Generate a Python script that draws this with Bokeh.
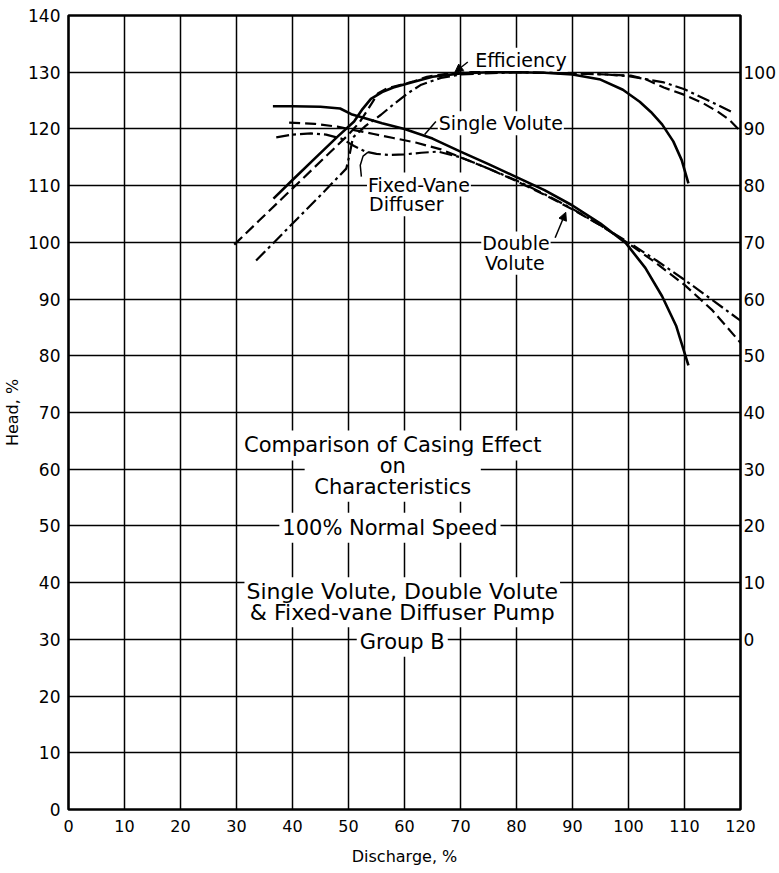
from bokeh.plotting import figure
from bokeh.models import Range1d, LinearAxis, FixedTicker, ColumnDataSource, Arrow, NormalHead
from bokeh.core.properties import value
from bokeh.embed import file_html
from bokeh.resources import INLINE

FONT = "DejaVu Sans"

# ---- ticks ----
x_ticks = list(range(0, 121, 10))
head_ticks = list(range(0, 141, 10))
eff_ticks = list(range(0, 101, 10))

# ---- head curves (Head, %) ----
single_head_x = [36.5, 40, 45, 48.5, 50.5, 52.5, 56, 60, 65, 70, 75, 80, 85, 90, 95, 99.5, 103, 106, 108.5, 110.7]
single_head_y = [124.0, 124.0, 123.9, 123.6, 122.6, 122.0, 121.0, 120.0, 118.3, 116.0, 113.8, 111.5, 109.2, 106.5, 103.3, 99.9, 95.5, 90.5, 85.3, 78.3]

double_head_x = [39.4, 44, 48, 51, 54.5, 58, 62, 66.5, 70, 75, 80, 85, 90, 95, 100, 105, 110, 115, 120]
double_head_y = [121.1, 120.9, 120.4, 119.8, 119.1, 118.4, 117.6, 116.4, 115.0, 113.0, 110.8, 108.4, 105.8, 103.0, 99.8, 96.3, 92.5, 88.0, 82.3]

diffuser_head_x = [37.1, 40, 43.3, 46, 48.7, 51, 53, 55, 57.5, 60, 63, 66, 70, 75, 80, 85, 90, 95, 100, 105, 110, 115, 120]
diffuser_head_y = [118.5, 119.0, 119.2, 119.0, 118.3, 117.0, 116.0, 115.6, 115.4, 115.5, 115.8, 116.0, 115.0, 113.0, 110.9, 108.5, 105.9, 103.0, 100.0, 96.8, 93.4, 89.8, 86.2]

# ---- efficiency curves (Efficiency, %) ----
single_eff_x = [36.6, 40, 44, 48, 51, 52.5, 54, 56, 58, 61.7, 65, 70, 75, 80, 85, 90, 95, 99, 102, 104, 106, 108, 109.5, 110.7]
single_eff_y = [77.7, 81.0, 84.8, 88.6, 91.3, 93.5, 95.3, 96.5, 97.3, 98.3, 99.2, 99.8, 100.0, 100.0, 99.9, 99.6, 98.7, 96.9, 94.8, 93.0, 90.8, 87.8, 84.5, 80.4]

double_eff_x = [29.6, 34, 38, 42, 46, 50, 52, 53.5, 55.3, 57, 61.7, 64, 68, 72, 80, 90, 96, 100.4, 103, 106.3, 110, 113.4, 116, 118, 120]
double_eff_y = [69.6, 73.8, 77.6, 81.4, 85.2, 89.0, 91.2, 93.5, 96.3, 97.2, 98.4, 99.2, 99.8, 100.0, 100.0, 99.8, 99.6, 99.4, 98.8, 97.3, 96.0, 94.5, 93.0, 91.6, 89.6]

diffuser_eff_x = [33.5, 37, 41, 45, 49.6, 50.2, 50.8, 53, 55.8, 58, 60.6, 63, 66.5, 70, 80, 90, 96, 100, 103, 106.3, 110, 113, 116, 118.6]
diffuser_eff_y = [66.8, 70.3, 74.3, 78.3, 83.0, 85.5, 88.5, 90.5, 92.5, 94.3, 96.3, 97.8, 99.0, 99.6, 100.0, 99.8, 99.6, 99.3, 98.8, 98.2, 97.0, 95.6, 94.2, 92.9]

# ---- annotations ----
title_text = ["Comparison of Casing Effect", "Characteristics", "100% Normal Speed", "Group B"]
title_x = [57.9, 57.9, 57.4, 59.6]
title_y = [64.2, 56.9, 49.7, 29.6]
pump_text = ["Single Volute, Double Volute", "& Fixed-vane Diffuser Pump"]
pump_x = [59.6, 59.6]
pump_y = [38.4, 34.7]
on_text = ["on"]
on_x = [57.9]
on_y = [60.5]

curve_text = ["Efficiency", "Single Volute", "Fixed-Vane", "Diffuser", "Double", "Volute"]
curve_x = [80.8, 77.2, 53.3, 53.5, 79.9, 79.7]
curve_y = [132.2, 121.0, 110.2, 106.7, 99.8, 96.4]
curve_align = ["center", "center", "left", "left", "center", "center"]

p = figure(width=778, height=872, x_range=Range1d(0, 120), y_range=Range1d(0, 140),
           output_backend="svg", toolbar_location=None,
           min_border_left=67, min_border_right=38, min_border_top=15, min_border_bottom=63)
p.extra_y_ranges = {"eff": Range1d(-30, 110)}

p.outline_line_color = "black"
p.outline_line_width = 2.6
p.background_fill_color = "white"
p.border_fill_color = "white"

def style_axis(ax, size):
    ax.major_tick_line_color = None
    ax.minor_tick_line_color = None
    ax.major_tick_out = 0
    ax.major_tick_in = 0
    ax.minor_tick_out = 0
    ax.minor_tick_in = 0
    ax.axis_line_color = None
    ax.major_label_text_font = FONT
    ax.major_label_text_font_size = size
    ax.major_label_text_color = "black"
    ax.axis_label_text_font = FONT
    ax.axis_label_text_font_size = "16px"
    ax.axis_label_text_font_style = "normal"
    ax.axis_label_text_color = "black"

style_axis(p.xaxis[0], "16px")
style_axis(p.yaxis[0], "17px")
p.xaxis.ticker = FixedTicker(ticks=x_ticks)
p.yaxis.ticker = FixedTicker(ticks=head_ticks)
p.xaxis.axis_label = "Discharge, %"
p.yaxis.axis_label = "Head, %"
p.xaxis.major_label_standoff = 10
p.xaxis.axis_label_standoff = 12
p.yaxis.major_label_standoff = 8
p.yaxis.axis_label_standoff = 3

right = LinearAxis(y_range_name="eff", ticker=FixedTicker(ticks=eff_ticks))
style_axis(right, "17px")
right.major_label_standoff = 3
p.add_layout(right, "right")

p.xgrid.ticker = FixedTicker(ticks=x_ticks)
p.ygrid.ticker = FixedTicker(ticks=head_ticks)
for g in (p.xgrid[0], p.ygrid[0]):
    g.grid_line_color = "black"
    g.grid_line_width = 1.5
    g.grid_line_alpha = 1.0

# white boxes behind the notes (interrupt the grid), then the notes themselves
on_src = ColumnDataSource(dict(x=on_x, y=on_y, text=on_text))
title_src = ColumnDataSource(dict(x=title_x, y=title_y, text=title_text))
pump_src = ColumnDataSource(dict(x=pump_x, y=pump_y, text=pump_text))
text_kw = dict(x="x", y="y", text="text", text_font=value(FONT),
               text_align="center", text_baseline="middle")
p.text(source=on_src, text_alpha=0, text_font_size="21px", background_fill_color="white", padding=(75, 3), **text_kw)
p.text(source=title_src, text_alpha=0, text_font_size="21px", background_fill_color="white", padding=3, **text_kw)
p.text(source=pump_src, text_alpha=0, text_font_size="22px", background_fill_color="white", padding=2, **text_kw)
p.text(source=on_src, text_color="black", text_font_size="21px", **text_kw)
p.text(source=title_src, text_color="black", text_font_size="21px", **text_kw)
p.text(source=pump_src, text_color="black", text_font_size="22px", **text_kw)

curves = ColumnDataSource(dict(x=curve_x, y=curve_y, text=curve_text, align=curve_align))
p.text(x="x", y="y", text="text", source=curves, text_font=value(FONT), text_font_size="19px",
       text_align="align", text_baseline="middle", text_color="black",
       background_fill_color="white", padding=1)

SOLID_W, DASH_W = 2.6, 2.2
p.line(single_head_x, single_head_y, line_color="black", line_width=SOLID_W)
p.line(double_head_x, double_head_y, line_color="black", line_width=DASH_W, line_dash="11 5")
p.line(diffuser_head_x, diffuser_head_y, line_color="black", line_width=DASH_W, line_dash="13 4 3 4")

p.line(single_eff_x, single_eff_y, y_range_name="eff", line_color="black", line_width=SOLID_W)
p.line(double_eff_x, double_eff_y, y_range_name="eff", line_color="black", line_width=DASH_W, line_dash="11 5")
p.line(diffuser_eff_x, diffuser_eff_y, y_range_name="eff", line_color="black", line_width=DASH_W, line_dash="13 4 3 4")

# leader lines
p.line([65.6, 63.6], [121.3, 119.0], line_color="black", line_width=1.5)
p.line([52.3, 52.1, 52.6, 53.5], [111.6, 113.6, 115.2, 115.9], line_color="black", line_width=1.5)
p.add_layout(Arrow(end=NormalHead(size=8, fill_color="black", line_color="black"),
                   x_start=86.9, y_start=100.8, x_end=88.8, y_end=105.3,
                   line_color="black", line_width=1.5))
p.add_layout(Arrow(end=NormalHead(size=8, fill_color="black", line_color="black"),
                   x_start=71.3, y_start=131.8, x_end=69.0, y_end=130.0,
                   line_color="black", line_width=1.5))

open("out.html", "w").write(file_html(p, INLINE))
